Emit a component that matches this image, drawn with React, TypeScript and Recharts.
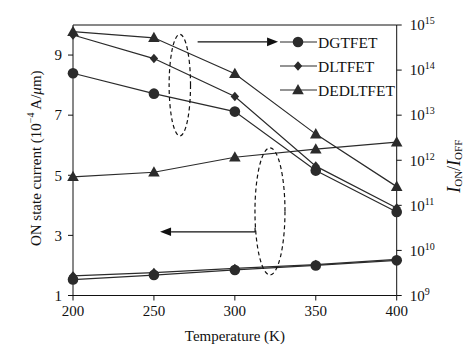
import React from 'react';
import {
  LineChart,
  Line,
  XAxis,
  YAxis,
  Legend,
  ReferenceLine,
  ReferenceDot,
} from 'recharts';

const temps = [200, 250, 300, 350, 400];
const xTicks = [200, 250, 300, 350, 400];
const leftTicks = [1, 3, 5, 7, 9];
const rightTicks = [1e9, 1e10, 1e11, 1e12, 1e13, 1e14, 1e15];

// ON current (10^-4 A/um), left axis
const ionDG = [1.53, 1.68, 1.85, 2.0, 2.17];
const ionDL = [1.65, 1.76, 1.9, 2.03, 2.2];
const ionDED = [4.95, 5.1, 5.6, 5.87, 6.1];

// ION/IOFF ratio, right axis (log)
const ratioDG = [8.5e13, 3.0e13, 1.2e13, 5.9e11, 7.1e10];
const ratioDL = [6.0e14, 1.8e14, 2.6e13, 7.4e11, 8.7e10];
const ratioDED = [7.1e14, 5.2e14, 8.3e13, 3.8e12, 2.6e11];

const legendNames = ['DGTFET', 'DLTFET', 'DEDLTFET'];
const legendShapes = ['circle', 'diamond', 'triangle'];

const data = temps.map((t, i) => ({
  t,
  ionDG: ionDG[i],
  ionDL: ionDL[i],
  ionDED: ionDED[i],
  ratioDG: ratioDG[i],
  ratioDL: ratioDL[i],
  ratioDED: ratioDED[i],
}));

const INK = '#2b2b2b';
const FONT = '"Liberation Serif", "DejaVu Serif", serif';

const marker = (shape: string, cx: number, cy: number, key?: string) => {
  if (shape === 'circle') return <circle key={key} cx={cx} cy={cy} r={5.3} fill={INK} />;
  if (shape === 'diamond')
    return (
      <polygon
        key={key}
        points={`${cx},${cy - 4.8} ${cx + 4.2},${cy} ${cx},${cy + 4.8} ${cx - 4.2},${cy}`}
        fill={INK}
      />
    );
  return (
    <polygon
      key={key}
      points={`${cx},${cy - 6} ${cx + 5.8},${cy + 4.3} ${cx - 5.8},${cy + 4.3}`}
      fill={INK}
    />
  );
};

const dotFor = (shape: string) => (p: any) => marker(shape, p.cx, p.cy, `${shape}-${p.index}`);

const RightTick = (p: any) => {
  const exp = Math.round(Math.log10(p.payload.value));
  return (
    <text x={p.x} y={p.y} dy="0.355em" fontFamily={FONT} fontSize={15} fill="#111" textAnchor="start">
      10
      <tspan fontSize={10} dy={-6}>
        {exp}
      </tspan>
    </text>
  );
};

const LeftLabel = (p: any) => {
  const { x, y, height } = p.viewBox;
  const cx = x + 36;
  const cy = y + height / 2 - 2;
  return (
    <text
      x={cx}
      y={cy}
      transform={`rotate(-90 ${cx} ${cy})`}
      textAnchor="middle"
      dominantBaseline="central"
      fontFamily={FONT}
      fontSize={15}
      fill="#111"
    >
      ON state current (10
      <tspan fontSize={10} dy={-6}>
        −4
      </tspan>
      <tspan dy={6}> A/</tspan>
      <tspan fontStyle="italic">μ</tspan>m)
    </text>
  );
};

const RightLabel = (p: any) => {
  const { x, y, height } = p.viewBox;
  const cx = x + 57;
  const cy = y + height / 2 + 6;
  return (
    <text
      x={cx}
      y={cy}
      transform={`rotate(-90 ${cx} ${cy})`}
      textAnchor="middle"
      dominantBaseline="central"
      fontFamily={FONT}
      fontSize={18}
      fill="#111"
    >
      <tspan fontStyle="italic">I</tspan>
      <tspan fontSize={11} dy={4}>
        ON
      </tspan>
      <tspan dy={-4}>/</tspan>
      <tspan fontStyle="italic">I</tspan>
      <tspan fontSize={11} dy={4}>
        OFF
      </tspan>
    </text>
  );
};

const Ellipse = (rx: number, ry: number) => (p: any) => (
  <ellipse
    cx={p.cx}
    cy={p.cy}
    rx={rx}
    ry={ry}
    fill="none"
    stroke="#111"
    strokeWidth={1.2}
    strokeDasharray="4 3"
  />
);

const Arrow = (hook: boolean) => (p: any) => {
  const { x1, y1, x2, y2 } = p;
  const dir = x2 > x1 ? 1 : -1;
  const hx = x2 - dir * 11;
  return (
    <g>
      <line x1={x1} y1={y1} x2={hx} y2={y2} stroke="#111" strokeWidth={1.2} />
      {hook && <line x1={x1} y1={y1} x2={x1} y2={y1 - 4} stroke="#111" strokeWidth={1.2} />}
      <polygon points={`${x2},${y2} ${hx},${y2 - 4.3} ${hx},${y2 + 4.3}`} fill="#111" />
    </g>
  );
};

const LegendBox = () => (
  <svg width={130} height={70}>
    {legendNames.map((name, i) => {
      const y = 10 + i * 24;
      return (
        <g key={name}>
          <line x1={0} y1={y} x2={37} y2={y} stroke={INK} strokeWidth={1.2} />
          {marker(legendShapes[i], 18, y)}
          <text x={38} y={y} dy="0.355em" fontFamily={FONT} fontSize={15.5} fill="#111">
            {name}
          </text>
        </g>
      );
    })}
  </svg>
);

export default function App() {
  const lineProps = {
    stroke: INK,
    strokeWidth: 1.2,
    isAnimationActive: false,
    type: 'linear' as const,
  };
  return (
    <div style={{ position: 'absolute', left: 0, top: 0, background: '#fff' }}>
      <LineChart width={472} height={351} data={data} margin={{ top: 25, right: 0, bottom: 0, left: 0 }}>
        <XAxis
          dataKey="t"
          type="number"
          domain={[200, 400]}
          ticks={xTicks}
          height={55.5}
          tickSize={5}
          tickMargin={5}
          stroke="#111"
          tick={{ fontFamily: FONT, fontSize: 15, fill: '#111' }}
          label={{
            value: 'Temperature (K)',
            position: 'insideBottom',
            offset: 10,
            style: { fontFamily: FONT, fontSize: 15, fill: '#111' },
          }}
        />
        <YAxis
          yAxisId="left"
          domain={[1, 10]}
          ticks={leftTicks}
          width={73}
          tickSize={5}
          tickMargin={6}
          stroke="#111"
          tick={{ fontFamily: FONT, fontSize: 15, fill: '#111' }}
          label={{ content: LeftLabel }}
        />
        <YAxis
          yAxisId="right"
          orientation="right"
          scale="log"
          domain={[1e9, 1e15]}
          ticks={rightTicks}
          width={75.3}
          tickSize={5}
          tickMargin={8}
          stroke="#111"
          tick={RightTick}
          label={{ content: RightLabel }}
          allowDataOverflow
        />
        <ReferenceLine yAxisId="left" y={10} stroke="#111" strokeWidth={1} />
        <Legend
          layout="vertical"
          align="center"
          verticalAlign="middle"
          content={LegendBox}
          wrapperStyle={{ position: 'absolute', left: 280, top: 32, width: 130 }}
        />
        <ReferenceDot yAxisId="left" x={266} y={8.0} shape={Ellipse(10.7, 50.8)} />
        <ReferenceDot yAxisId="left" x={321.7} y={3.8} shape={Ellipse(15, 63.5)} />
        <ReferenceLine
          yAxisId="left"
          segment={[
            { x: 277, y: 9.44 },
            { x: 326.7, y: 9.44 },
          ]}
          shape={Arrow(false)}
        />
        <ReferenceLine
          yAxisId="left"
          segment={[
            { x: 312.5, y: 3.12 },
            { x: 253.8, y: 3.12 },
          ]}
          shape={Arrow(true)}
        />
        <Line yAxisId="left" dataKey="ionDL" {...lineProps} dot={dotFor('diamond')} />
        <Line yAxisId="left" dataKey="ionDG" {...lineProps} dot={dotFor('circle')} />
        <Line yAxisId="left" dataKey="ionDED" {...lineProps} dot={dotFor('triangle')} />
        <Line yAxisId="right" dataKey="ratioDG" {...lineProps} dot={dotFor('circle')} />
        <Line yAxisId="right" dataKey="ratioDL" {...lineProps} dot={dotFor('diamond')} />
        <Line yAxisId="right" dataKey="ratioDED" {...lineProps} dot={dotFor('triangle')} />
      </LineChart>
    </div>
  );
}
